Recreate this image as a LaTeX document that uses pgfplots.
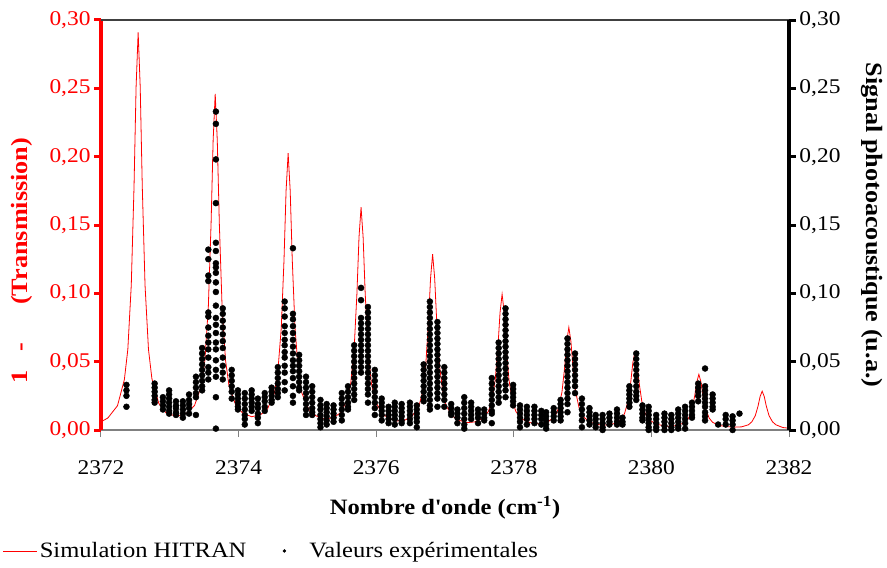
\documentclass[border=0pt]{standalone}
\usepackage{fontspec}
\setmainfont{Liberation Serif}[FakeStretch=1.12]
\usepackage{pgfplots}
\pgfplotsset{compat=1.18}
\pgfplotsset{longline/.style={legend image code/.code={\draw[##1] (0bp,0bp) -- (34bp,0bp);}},
  dotimg/.style={legend image code/.code={\path[draw=none,fill=none] (0bp,-0.5bp) rectangle (44bp,0.5bp); \fill[black] (21bp,0bp) circle (1.5bp);}}}
\begin{document}
\begin{tikzpicture}[font=\fontsize{21}{25}\selectfont]
\pgfplotsset{every axis/.append style={
  width=688bp, height=410bp, scale only axis,
  xmin=2372, xmax=2382, ymin=0, ymax=0.30,
  at={(0,0)}, anchor=south west,
  tick align=outside,
  /pgf/number format/assume math mode=true,
  /pgf/number format/1000 sep={},
  ytick={0,0.05,0.1,0.15,0.2,0.25,0.3},
  yticklabel style={/pgf/number format/fixed, /pgf/number format/fixed zerofill, /pgf/number format/precision=2, /pgf/number format/use comma},
}}
\begin{axis}[
  axis x line*=bottom, axis y line*=left,
  x axis line style={draw=gray, line width=1.4bp},
  y axis line style={draw=red, line width=3.5bp},
  xtick={2372,2374,2376,2378,2380,2382},
  xtick style={draw=gray, line width=1bp},
  major tick length=7bp,
  ytick style={draw=red, line width=3bp},
  yticklabel style={text=red},
  xticklabel style={yshift=-20bp},
  xlabel={Nombre d\textquotesingle onde (cm\textsuperscript{-1})},
  every axis x label/.style={at={(axis description cs:0.5,-0.19)}, anchor=center, font=\fontsize{22}{26}\selectfont\bfseries},
  ylabel={1\hspace{19bp}-\hspace{38bp}(Transmission)},
  every axis y label/.style={at={(axis description cs:-0.115,0.413)}, rotate=90, anchor=center, text=red, font=\fontsize{23.5}{28}\selectfont\bfseries},
]
\addplot[red, line width=0.8bp] coordinates {
(2372.00,.006)(2372.10,.0088)(2372.24,.0178)(2372.34,.037)(2372.39,.059)(2372.44,.106)(2372.48,.178)(2372.51,.251)(2372.54,.291)(2372.57,.251)(2372.60,.178)(2372.64,.106)(2372.69,.059)(2372.74,.0375)(2372.84,.0195)(2372.94,.0128)(2373.10,.0098)
(2373.26,.0127)(2373.36,.018)(2373.46,.0325)(2373.51,.051)(2373.56,.090)(2373.60,.151)(2373.63,.212)(2373.66,.246)(2373.69,.212)(2373.72,.151)(2373.76,.090)(2373.81,.051)(2373.86,.0325)(2373.96,.018)(2374.06,.0124)(2374.19,.0097)
(2374.32,.0112)(2374.42,.0154)(2374.52,.027)(2374.57,.0425)(2374.62,.0745)(2374.66,.1245)(2374.69,.175)(2374.72,.2025)(2374.75,.175)(2374.78,.1245)(2374.82,.0745)(2374.87,.0425)(2374.92,.027)(2375.02,.015)(2375.12,.0105)(2375.25,.0079)
(2375.38,.0091)(2375.48,.0125)(2375.58,.022)(2375.63,.0343)(2375.68,.060)(2375.72,.100)(2375.75,.141)(2375.78,.163)(2375.81,.141)(2375.84,.100)(2375.88,.060)(2375.93,.0343)(2375.98,.022)(2376.08,.0122)(2376.18,.0086)(2376.30,.0066)
(2376.42,.0073)(2376.52,.010)(2376.62,.0173)(2376.67,.027)(2376.72,.0474)(2376.76,.079)(2376.79,.111)(2376.82,.1287)(2376.85,.111)(2376.88,.079)(2376.92,.0474)(2376.97,.027)(2377.02,.0173)(2377.12,.0097)(2377.22,.0069)(2377.325,.0054)
(2377.43,.0059)(2377.53,.0079)(2377.63,.0135)(2377.68,.021)(2377.73,.0367)(2377.77,.0612)(2377.80,.086)(2377.83,.0994)(2377.86,.086)(2377.89,.0612)(2377.93,.0367)(2377.98,.021)(2378.03,.0135)(2378.13,.0077)(2378.23,.0055)(2378.315,.0045)
(2378.40,.0047)(2378.50,.0061)(2378.60,.0102)(2378.65,.0159)(2378.70,.0277)(2378.74,.0462)(2378.77,.0649)(2378.80,.0751)(2378.83,.0649)(2378.86,.0462)(2378.90,.0277)(2378.95,.0159)(2379.00,.0102)(2379.10,.0059)(2379.20,.0043)(2379.28,.0035)
(2379.36,.0037)(2379.46,.0047)(2379.56,.0078)(2379.61,.0121)(2379.66,.0211)(2379.70,.0351)(2379.73,.0492)(2379.76,.0569)(2379.79,.0492)(2379.82,.0351)(2379.86,.0211)(2379.91,.0121)(2379.96,.0078)(2380.06,.0045)(2380.16,.0033)(2380.225,.0027)
(2380.29,.0028)(2380.39,.0035)(2380.49,.0056)(2380.54,.0087)(2380.59,.0151)(2380.63,.0251)(2380.66,.0352)(2380.69,.0407)(2380.72,.0352)(2380.75,.0251)(2380.79,.0151)(2380.84,.0087)(2380.89,.0056)(2380.99,.0033)(2381.09,.0025)
(2381.21,.0021)(2381.31,.0023)(2381.41,.0038)(2381.46,.006)(2381.51,.0105)(2381.55,.0175)(2381.58,.0245)(2381.61,.0284)(2381.64,.0245)(2381.67,.0175)(2381.71,.0105)(2381.76,.006)(2381.81,.0038)(2381.91,.0018)(2382.00,.0013)
};
\end{axis}
\begin{axis}[
  axis x line*=top, axis y line*=right,
  x axis line style={draw=darkgray, line width=1.2bp},
  y axis line style={draw=black, line width=3.5bp},
  xtick=\empty,
  major tick length=7bp,
  ytick style={draw=black, line width=3bp},
  ylabel={Signal photoacoustique (u.a.)},
  every axis y label/.style={at={(axis description cs:1.1206,0.5)}, rotate=-90, anchor=center, font=\fontsize{23.5}{28}\selectfont\bfseries},
  legend style={draw=none, fill=none, at={(axis description cs:-0.147,-0.295)}, anchor=west, font=\fontsize{22}{26}\selectfont,
    /tikz/every even column/.append style={column sep=15bp}},
  legend columns=2, legend cell align=left,
]
\addlegendimage{red, line width=0.8bp, longline}
\addlegendentry{Simulation HITRAN}
\addplot[only marks, mark=*, mark size=3bp, black, dotimg] table[row sep=\\] {
x y\\
2372.37 .033\\ 2372.37 .029\\ 2372.37 .025\\ 2372.37 .017\\
2372.78 .034\\ 2372.78 .031\\ 2372.78 .028\\ 2372.78 .025\\ 2372.78 .022\\ 2372.78 .020\\
2372.90 .024\\ 2372.90 .021\\ 2372.90 .018\\ 2372.90 .015\\
2372.99 .029\\ 2372.99 .026\\ 2372.99 .023\\ 2372.99 .020\\ 2372.99 .017\\ 2372.99 .014\\ 2372.99 .012\\
2373.09 .021\\ 2373.09 .018\\ 2373.09 .016\\ 2373.09 .013\\ 2373.09 .011\\
2373.19 .021\\ 2373.19 .018\\ 2373.19 .015\\ 2373.19 .012\\ 2373.19 .009\\
2373.28 .026\\ 2373.28 .022\\ 2373.28 .019\\ 2373.28 .016\\ 2373.28 .012\\
2373.38 .039\\ 2373.38 .035\\ 2373.38 .031\\ 2373.38 .027\\ 2373.38 .024\\ 2373.38 .011\\
2373.47 .060\\ 2373.47 .056\\ 2373.47 .052\\ 2373.47 .048\\ 2373.47 .044\\ 2373.47 .040\\ 2373.47 .036\\ 2373.47 .032\\ 2373.47 .029\\
2373.56 .132\\ 2373.56 .125\\ 2373.56 .113\\ 2373.56 .109\\ 2373.56 .086\\ 2373.56 .083\\ 2373.56 .075\\ 2373.56 .069\\ 2373.56 .064\\ 2373.56 .059\\ 2373.56 .053\\ 2373.56 .046\\ 2373.56 .042\\ 2373.56 .037\\
2373.67 .233\\ 2373.67 .224\\ 2373.67 .198\\ 2373.67 .166\\ 2373.67 .137\\ 2373.67 .131\\ 2373.67 .122\\ 2373.67 .119\\ 2373.67 .115\\ 2373.67 .108\\ 2373.67 .101\\ 2373.67 .091\\ 2373.67 .082\\ 2373.67 .077\\ 2373.67 .071\\ 2373.67 .064\\ 2373.67 .059\\ 2373.67 .051\\ 2373.67 .044\\ 2373.67 .039\\ 2373.67 .024\\ 2373.67 .001\\
2373.77 .089\\ 2373.77 .085\\ 2373.77 .080\\ 2373.77 .075\\ 2373.77 .070\\ 2373.77 .065\\ 2373.77 .060\\ 2373.77 .053\\ 2373.77 .047\\ 2373.77 .042\\ 2373.77 .037\\
2373.90 .044\\ 2373.90 .040\\ 2373.90 .036\\ 2373.90 .032\\ 2373.90 .028\\ 2373.90 .023\\
2373.99 .029\\ 2373.99 .026\\ 2373.99 .023\\ 2373.99 .020\\ 2373.99 .017\\ 2373.99 .015\\
2374.09 .027\\ 2374.09 .023\\ 2374.09 .019\\ 2374.09 .015\\ 2374.09 .011\\ 2374.09 .008\\ 2374.09 .004\\
2374.19 .029\\ 2374.19 .026\\ 2374.19 .023\\ 2374.19 .020\\ 2374.19 .017\\ 2374.19 .014\\
2374.28 .023\\ 2374.28 .019\\ 2374.28 .016\\ 2374.28 .012\\ 2374.28 .009\\ 2374.28 .005\\
2374.38 .027\\ 2374.38 .024\\ 2374.38 .021\\ 2374.38 .017\\ 2374.38 .014\\
2374.48 .031\\ 2374.48 .028\\ 2374.48 .025\\ 2374.48 .022\\ 2374.48 .020\\
2374.57 .046\\ 2374.57 .042\\ 2374.57 .038\\ 2374.57 .034\\ 2374.57 .030\\ 2374.57 .027\\ 2374.57 .024\\
2374.67 .094\\ 2374.67 .089\\ 2374.67 .083\\ 2374.67 .076\\ 2374.67 .071\\ 2374.67 .066\\ 2374.67 .062\\ 2374.67 .057\\ 2374.67 .053\\ 2374.67 .047\\ 2374.67 .042\\ 2374.67 .035\\ 2374.67 .029\\
2374.79 .133\\ 2374.79 .085\\ 2374.79 .081\\ 2374.79 .076\\ 2374.79 .071\\ 2374.79 .066\\ 2374.79 .061\\ 2374.79 .056\\ 2374.79 .051\\ 2374.79 .047\\ 2374.79 .043\\ 2374.79 .038\\ 2374.79 .032\\ 2374.79 .025\\ 2374.79 .020\\
2374.88 .055\\ 2374.88 .051\\ 2374.88 .047\\ 2374.88 .043\\ 2374.88 .039\\ 2374.88 .035\\ 2374.88 .031\\ 2374.88 .029\\
2374.98 .039\\ 2374.98 .035\\ 2374.98 .031\\ 2374.98 .027\\ 2374.98 .023\\ 2374.98 .019\\ 2374.98 .015\\ 2374.98 .011\\
2375.07 .032\\ 2375.07 .028\\ 2375.07 .024\\ 2375.07 .020\\ 2375.07 .016\\ 2375.07 .013\\ 2375.07 .011\\
2375.19 .022\\ 2375.19 .018\\ 2375.19 .015\\ 2375.19 .011\\ 2375.19 .008\\ 2375.19 .005\\ 2375.19 .002\\
2375.28 .019\\ 2375.28 .016\\ 2375.28 .013\\ 2375.28 .010\\ 2375.28 .007\\ 2375.28 .004\\
2375.38 .018\\ 2375.38 .015\\ 2375.38 .012\\ 2375.38 .009\\ 2375.38 .006\\
2375.50 .027\\ 2375.50 .023\\ 2375.50 .019\\ 2375.50 .015\\ 2375.50 .011\\ 2375.50 .007\\
2375.59 .032\\ 2375.59 .028\\ 2375.59 .024\\ 2375.59 .020\\ 2375.59 .017\\ 2375.59 .015\\
2375.68 .062\\ 2375.68 .058\\ 2375.68 .054\\ 2375.68 .050\\ 2375.68 .046\\ 2375.68 .042\\ 2375.68 .038\\ 2375.68 .034\\ 2375.68 .030\\ 2375.68 .026\\ 2375.68 .022\\
2375.78 .104\\ 2375.78 .095\\ 2375.78 .082\\ 2375.78 .078\\ 2375.78 .074\\ 2375.78 .070\\ 2375.78 .066\\ 2375.78 .062\\ 2375.78 .058\\ 2375.78 .054\\ 2375.78 .050\\ 2375.78 .046\\ 2375.78 .042\\
2375.88 .090\\ 2375.88 .086\\ 2375.88 .082\\ 2375.88 .078\\ 2375.88 .074\\ 2375.88 .070\\ 2375.88 .066\\ 2375.88 .062\\ 2375.88 .058\\ 2375.88 .054\\ 2375.88 .050\\ 2375.88 .046\\ 2375.88 .042\\ 2375.88 .038\\ 2375.88 .034\\ 2375.88 .030\\ 2375.88 .026\\ 2375.88 .020\\
2375.98 .044\\ 2375.98 .040\\ 2375.98 .036\\ 2375.98 .032\\ 2375.98 .028\\ 2375.98 .024\\ 2375.98 .020\\ 2375.98 .016\\ 2375.98 .011\\
2376.08 .023\\ 2376.08 .020\\ 2376.08 .017\\ 2376.08 .014\\ 2376.08 .011\\ 2376.08 .007\\
2376.18 .017\\ 2376.18 .014\\ 2376.18 .011\\ 2376.18 .008\\ 2376.18 .005\\
2376.27 .020\\ 2376.27 .017\\ 2376.27 .014\\ 2376.27 .011\\ 2376.27 .008\\ 2376.27 .004\\
2376.37 .019\\ 2376.37 .016\\ 2376.37 .013\\ 2376.37 .010\\ 2376.37 .007\\ 2376.37 .005\\
2376.49 .020\\ 2376.49 .017\\ 2376.49 .014\\ 2376.49 .011\\ 2376.49 .008\\ 2376.49 .005\\
2376.59 .018\\ 2376.59 .015\\ 2376.59 .012\\ 2376.59 .009\\ 2376.59 .006\\ 2376.59 .002\\
2376.69 .048\\ 2376.69 .044\\ 2376.69 .040\\ 2376.69 .036\\ 2376.69 .032\\ 2376.69 .028\\ 2376.69 .024\\ 2376.69 .021\\
2376.78 .094\\ 2376.78 .090\\ 2376.78 .086\\ 2376.78 .082\\ 2376.78 .078\\ 2376.78 .074\\ 2376.78 .070\\ 2376.78 .066\\ 2376.78 .062\\ 2376.78 .058\\ 2376.78 .054\\ 2376.78 .050\\ 2376.78 .046\\ 2376.78 .042\\ 2376.78 .038\\ 2376.78 .034\\ 2376.78 .030\\ 2376.78 .026\\ 2376.78 .022\\ 2376.78 .018\\ 2376.78 .015\\
2376.89 .079\\ 2376.89 .075\\ 2376.89 .071\\ 2376.89 .067\\ 2376.89 .063\\ 2376.89 .059\\ 2376.89 .055\\ 2376.89 .051\\ 2376.89 .047\\ 2376.89 .043\\ 2376.89 .039\\ 2376.89 .035\\ 2376.89 .031\\ 2376.89 .027\\ 2376.89 .023\\ 2376.89 .017\\
2376.99 .046\\ 2376.99 .042\\ 2376.99 .038\\ 2376.99 .034\\ 2376.99 .030\\ 2376.99 .026\\ 2376.99 .022\\ 2376.99 .017\\
2377.09 .019\\ 2377.09 .016\\ 2377.09 .013\\ 2377.09 .011\\
2377.18 .015\\ 2377.18 .012\\ 2377.18 .009\\ 2377.18 .005\\
2377.28 .024\\ 2377.28 .020\\ 2377.28 .016\\ 2377.28 .012\\ 2377.28 .008\\ 2377.28 .004\\ 2377.28 .001\\
2377.38 .020\\ 2377.38 .017\\ 2377.38 .014\\ 2377.38 .011\\ 2377.38 .008\\
2377.48 .015\\ 2377.48 .012\\ 2377.48 .009\\ 2377.48 .005\\
2377.57 .015\\ 2377.57 .012\\ 2377.57 .009\\ 2377.57 .007\\
2377.68 .038\\ 2377.68 .034\\ 2377.68 .030\\ 2377.68 .026\\ 2377.68 .022\\ 2377.68 .018\\ 2377.68 .014\\ 2377.68 .012\\ 2377.68 .005\\
2377.78 .064\\ 2377.78 .060\\ 2377.78 .056\\ 2377.78 .052\\ 2377.78 .048\\ 2377.78 .044\\ 2377.78 .040\\ 2377.78 .036\\ 2377.78 .032\\ 2377.78 .028\\ 2377.78 .024\\ 2377.78 .020\\
2377.88 .089\\ 2377.88 .085\\ 2377.88 .081\\ 2377.88 .077\\ 2377.88 .073\\ 2377.88 .069\\ 2377.88 .065\\ 2377.88 .061\\ 2377.88 .057\\ 2377.88 .053\\ 2377.88 .049\\ 2377.88 .045\\ 2377.88 .041\\ 2377.88 .037\\ 2377.88 .033\\ 2377.88 .029\\ 2377.88 .024\\
2377.99 .033\\ 2377.99 .030\\ 2377.99 .027\\ 2377.99 .024\\ 2377.99 .021\\ 2377.99 .018\\
2378.09 .018\\ 2378.09 .015\\ 2378.09 .012\\ 2378.09 .009\\ 2378.09 .006\\ 2378.09 .002\\
2378.19 .017\\ 2378.19 .014\\ 2378.19 .011\\ 2378.19 .008\\ 2378.19 .004\\
2378.30 .017\\ 2378.30 .014\\ 2378.30 .011\\ 2378.30 .008\\ 2378.30 .005\\
2378.40 .014\\ 2378.40 .011\\ 2378.40 .008\\ 2378.40 .004\\
2378.47 .013\\ 2378.47 .010\\ 2378.47 .007\\ 2378.47 .004\\ 2378.47 .001\\
2378.58 .016\\ 2378.58 .013\\ 2378.58 .010\\ 2378.58 .007\\
2378.68 .022\\ 2378.68 .019\\ 2378.68 .016\\ 2378.68 .013\\ 2378.68 .010\\ 2378.68 .007\\
2378.78 .067\\ 2378.78 .063\\ 2378.78 .059\\ 2378.78 .055\\ 2378.78 .051\\ 2378.78 .047\\ 2378.78 .043\\ 2378.78 .039\\ 2378.78 .035\\ 2378.78 .031\\ 2378.78 .027\\ 2378.78 .023\\ 2378.78 .019\\ 2378.78 .013\\
2378.89 .056\\ 2378.89 .052\\ 2378.89 .048\\ 2378.89 .044\\ 2378.89 .040\\ 2378.89 .036\\ 2378.89 .032\\ 2378.89 .027\\
2378.99 .023\\ 2378.99 .019\\ 2378.99 .015\\ 2378.99 .011\\ 2378.99 .007\\ 2378.99 .002\\
2379.10 .016\\ 2379.10 .013\\ 2379.10 .010\\ 2379.10 .007\\ 2379.10 .004\\
2379.19 .011\\ 2379.19 .008\\ 2379.19 .005\\ 2379.19 .002\\
2379.29 .011\\ 2379.29 .008\\ 2379.29 .005\\ 2379.29 .002\\ 2379.29 .000\\
2379.39 .012\\ 2379.39 .009\\ 2379.39 .006\\ 2379.39 .004\\
2379.50 .015\\ 2379.50 .012\\ 2379.50 .009\\ 2379.50 .006\\ 2379.50 .004\\
2379.58 .009\\ 2379.58 .006\\ 2379.58 .004\\
2379.68 .032\\ 2379.68 .029\\ 2379.68 .026\\ 2379.68 .023\\ 2379.68 .020\\ 2379.68 .017\\
2379.78 .056\\ 2379.78 .052\\ 2379.78 .048\\ 2379.78 .044\\ 2379.78 .040\\ 2379.78 .036\\ 2379.78 .032\\ 2379.78 .028\\ 2379.78 .025\\ 2379.78 .022\\
2379.87 .018\\ 2379.87 .015\\ 2379.87 .012\\ 2379.87 .009\\ 2379.87 .007\\
2379.96 .017\\ 2379.96 .014\\ 2379.96 .011\\ 2379.96 .008\\ 2379.96 .005\\ 2379.96 .002\\ 2379.96 .000\\
2380.07 .011\\ 2380.07 .008\\ 2380.07 .005\\ 2380.07 .002\\ 2380.07 .000\\
2380.19 .012\\ 2380.19 .009\\ 2380.19 .006\\ 2380.19 .003\\ 2380.19 .000\\
2380.29 .011\\ 2380.29 .008\\ 2380.29 .005\\ 2380.29 .002\\ 2380.29 .000\\
2380.39 .015\\ 2380.39 .012\\ 2380.39 .009\\ 2380.39 .006\\ 2380.39 .003\\ 2380.39 .001\\
2380.49 .017\\ 2380.49 .014\\ 2380.49 .011\\ 2380.49 .008\\ 2380.49 .005\\ 2380.49 .001\\
2380.59 .020\\ 2380.59 .017\\ 2380.59 .014\\ 2380.59 .011\\ 2380.59 .009\\
2380.68 .034\\ 2380.68 .031\\ 2380.68 .028\\ 2380.68 .025\\ 2380.68 .021\\
2380.78 .045\\ 2380.78 .032\\ 2380.78 .029\\ 2380.78 .026\\ 2380.78 .023\\ 2380.78 .020\\ 2380.78 .017\\ 2380.78 .013\\ 2380.78 .010\\ 2380.78 .007\\
2380.89 .026\\ 2380.89 .023\\ 2380.89 .020\\ 2380.89 .017\\ 2380.89 .015\\
2380.97 .004\\
2381.08 .011\\ 2381.08 .008\\ 2381.08 .004\\
2381.18 .010\\ 2381.18 .007\\ 2381.18 .004\\ 2381.18 .000\\
2381.28 .012\\
};
\addlegendentry{Valeurs expérimentales}
\end{axis}
\pgfresetboundingbox
\path (-101bp,-138bp) rectangle (786bp,430bp);
\end{tikzpicture}
\end{document}
